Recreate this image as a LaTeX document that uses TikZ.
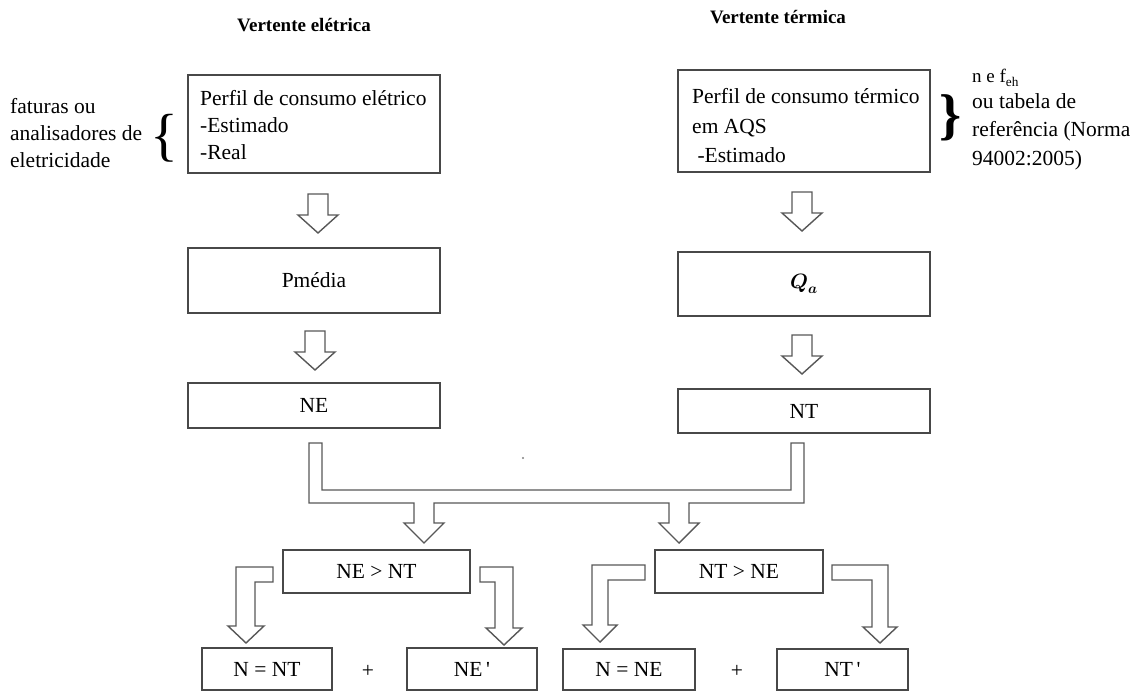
\documentclass[tikz,border=0pt]{standalone}
\usepackage{fontspec}
\usepackage{amsmath}
\setmainfont{Liberation Serif}
\definecolor{boxgray}{HTML}{484848}
\definecolor{arrgray}{HTML}{585858}
\begin{document}
\begin{tikzpicture}[x=1pt,y=-1pt,
  box/.style={draw=boxgray, line width=1.7pt, inner sep=0pt, fill=white},
  blk/.style={draw=arrgray, line width=1.4pt, fill=white, line join=miter},
  txt/.style={font=\fontsize{21.5}{26}\selectfont, inner sep=0pt},
  ttl/.style={font=\bfseries\fontsize{19}{22}\selectfont, inner sep=0pt},
  downblock/.pic={\draw[blk] (-10,0) -- (10,0) -- (10,21) -- (20,21) -- (0,39) -- (-20,21) -- (-10,21) -- cycle;}]
\useasboundingbox (0,0) rectangle (1137,692);

% titles
\node[ttl] (t1) at (304,25) {Vertente elétrica};
\node[ttl] (t2) at (778,17) {Vertente térmica};

% top boxes
\node[box, minimum width=252pt, minimum height=98pt] (elbox) at (314,124) {};
\node[txt, anchor=north west, align=left, font=\fontsize{21.5}{27}\selectfont] (eltext) at (200,90.5) {Perfil de consumo elétrico\\-Estimado\\-Real};
\node[box, minimum width=252pt, minimum height=102pt] (thbox) at (804,121) {};
\node[txt, anchor=north west, align=left, font=\fontsize{21.5}{29.5}\selectfont] (thtext) at (692,88.5) {Perfil de consumo térmico\\em AQS\\\ -Estimado};

% annotations
\node[txt, anchor=north west, align=left, font=\fontsize{21.5}{27}\selectfont] (annl) at (10,98.5) {faturas ou\\analisadores de\\eletricidade};
\node[inner sep=0pt, font=\fontsize{58}{58}\selectfont] (bl) at (164,138) {\{};
\node[inner sep=0pt, font=\bfseries\fontsize{56}{56}\selectfont] (br) at (951,118) {\}};
\node[txt, anchor=base west, font=\fontsize{19}{22}\selectfont] (annr0) at (972,83) {n e f\textsubscript{eh}};
\node[txt, anchor=north west, align=left, font=\fontsize{21.5}{28.5}\selectfont] (annr) at (972,93) {ou tabela de\\referência (Norma\\94002:2005)};

% middle boxes
\node[box, minimum width=252pt, minimum height=65pt, txt] (pm) at (314,280.5) {Pmédia};
\node[box, minimum width=252pt, minimum height=64pt, txt] (qa) at (804,284) {$\boldsymbol{Q}_{\boldsymbol{a}}$};
\node[box, minimum width=252pt, minimum height=45pt, txt] (ne) at (314,405.5) {NE};
\node[box, minimum width=252pt, minimum height=44pt, txt] (nt) at (804,411) {NT};

% vertical block arrows
\pic at (318,194) {downblock};
\pic at (802,192) {downblock};
\pic at (315,331) {downblock};
\pic at (802,335) {downblock};

% merge block arrow
\draw[blk] (309,443) -- (322,443) -- (322,490) -- (791,490) -- (791,443) -- (804,443) -- (804,503)
  -- (689,503) -- (689,523) -- (699,523) -- (679,543) -- (659,523) -- (669,523) -- (669,503)
  -- (434,503) -- (434,523) -- (444,523) -- (424,543) -- (404,523) -- (414,523) -- (414,503)
  -- (309,503) -- cycle;
\fill[gray] (523,458) circle (1.1pt);

% condition boxes
\node[box, minimum width=187pt, minimum height=43pt, txt] (c1) at (376.5,571.5) {NE > NT};
\node[box, minimum width=168pt, minimum height=43pt, txt] (c2) at (739,571.5) {NT > NE};

% elbow block arrows
\draw[blk] (273,567) -- (236,567) -- (236,626) -- (228,626) -- (246,643) -- (264,626) -- (255,626) -- (255,582) -- (273,582) -- cycle;
\draw[blk] (480,567) -- (513,567) -- (513,628) -- (522,628) -- (504,645) -- (486,628) -- (495,628) -- (495,582) -- (480,582) -- cycle;
\draw[blk] (645,565) -- (592,565) -- (592,625) -- (583,625) -- (600,642) -- (617,625) -- (608,625) -- (608,580) -- (645,580) -- cycle;
\draw[blk] (832,565) -- (888,565) -- (888,627) -- (897,627) -- (880,643) -- (863,627) -- (872,627) -- (872,580) -- (832,580) -- cycle;

% result boxes
\node[box, minimum width=130pt, minimum height=42pt, txt] (r1) at (267,669) {N = NT};
\node[txt] (p1) at (368,671) {+};
\node[box, minimum width=130pt, minimum height=42pt, txt] (r2) at (472,669) {NE\,\textquotesingle};
\node[box, minimum width=132pt, minimum height=41pt, txt] (r3) at (629,669.5) {N = NE};
\node[txt] (p2) at (737,671) {+};
\node[box, minimum width=131pt, minimum height=41pt, txt] (r4) at (842.5,669.5) {NT\,\textquotesingle};
\end{tikzpicture}
\end{document}
